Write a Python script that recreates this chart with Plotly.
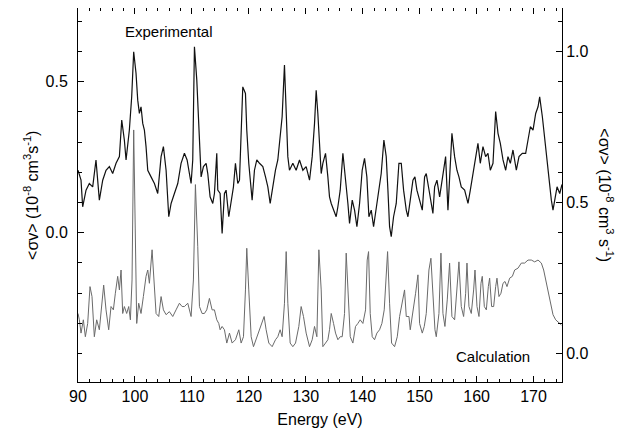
import plotly.graph_objects as go

# Experimental rate coefficient (left axis, 1e-8 cm^3 s^-1)
exp_energy = [
    90.00, 90.53, 90.82, 91.41, 91.99, 92.58, 93.16, 93.75, 94.34, 94.92, 95.51, 96.09, 96.68, 97.27,
    97.68, 98.14, 98.44, 99.02, 99.43, 99.78, 100.19, 100.49, 100.78, 101.07, 101.37, 101.66, 101.95,
    102.25, 102.83, 103.42, 104.00, 104.59, 105.00, 105.47, 105.94, 106.35, 106.93, 107.52, 108.10,
    108.69, 109.16, 109.57, 109.86, 110.15, 110.45, 110.86, 111.21, 111.62, 112.03, 112.50, 112.79,
    113.20, 113.67, 113.96, 114.37, 114.55, 114.96, 115.31, 115.72, 116.01, 116.48, 116.89, 117.30,
    117.65, 118.06, 118.36, 118.65, 118.94, 119.41, 119.64, 119.99, 120.29, 120.58, 120.99, 121.40,
    121.87, 122.46, 122.93, 123.34, 123.75, 124.21, 124.68, 125.09, 125.39, 125.85, 126.26, 126.56,
    126.85, 127.14, 127.73, 128.31, 128.90, 129.49, 130.07, 130.66, 131.13, 131.54, 131.83, 132.12,
    132.42, 132.71, 133.00, 133.47, 133.88, 134.17, 134.47, 134.88, 135.34, 135.64, 136.05, 136.52,
    136.99, 137.40, 137.69, 138.16, 138.57, 138.98, 139.45, 139.91, 140.32, 140.73, 141.09, 141.50,
    141.91, 142.37, 142.84, 143.25, 143.72, 144.13, 144.43, 144.72, 145.01, 145.42, 145.89, 146.36,
    146.77, 147.18, 147.65, 147.94, 148.35, 148.82, 149.17, 149.52, 149.99, 150.46, 150.87, 151.16,
    151.75, 152.33, 152.63, 153.04, 153.51, 153.97, 154.56, 154.97, 155.26, 155.67, 156.14, 156.55,
    156.90, 157.31, 157.90, 158.49, 158.90, 159.36, 159.83, 160.24, 160.65, 161.12, 161.59, 162.00,
    162.41, 162.88, 163.35, 163.76, 164.17, 164.64, 165.11, 165.51, 165.93, 166.39, 166.98, 167.45,
    168.03, 168.62, 169.03, 169.44, 169.91, 170.38, 170.79, 171.08, 171.55, 171.96, 172.37, 172.84,
    173.13, 173.42, 173.78, 174.13, 174.60, 175.00,
]
exp_value = [
    0.207, 0.174, 0.086, 0.141, 0.163, 0.152, 0.241, 0.108, 0.174, 0.207, 0.219, 0.196, 0.230, 0.252,
    0.373, 0.307, 0.241, 0.340, 0.450, 0.599, 0.528, 0.439, 0.395, 0.417, 0.362, 0.340, 0.285,
    0.207, 0.185, 0.163, 0.130, 0.252, 0.285, 0.207, 0.053, 0.097, 0.130, 0.163, 0.230,
    0.263, 0.241, 0.185, 0.163, 0.241, 0.616, 0.506, 0.340, 0.185, 0.219, 0.230, 0.196,
    0.119, 0.097, 0.130, 0.263, 0.141, 0.130, -0.002, 0.130, 0.141, 0.053, 0.097, 0.152,
    0.230, 0.163, 0.174, 0.340, 0.483, 0.461, 0.340, 0.230, 0.152, 0.108, 0.207, 0.241,
    0.230, 0.219, 0.185, 0.152, 0.097, 0.152, 0.207, 0.241, 0.296, 0.384, 0.555, 0.395,
    0.252, 0.207, 0.230, 0.207, 0.241, 0.207, 0.219, 0.174, 0.252, 0.362, 0.472, 0.395,
    0.296, 0.196, 0.230, 0.263, 0.185, 0.119, 0.097, 0.075, 0.053, 0.086, 0.141, 0.263,
    0.185, 0.097, 0.031, 0.108, 0.075, 0.020, 0.097, 0.207, 0.246, 0.185, 0.053, 0.075,
    0.020, 0.075, 0.141, 0.196, 0.307, 0.252, 0.141, 0.020, -0.013, 0.053, 0.097, 0.230,
    0.230, 0.141, 0.075, 0.053, 0.108, 0.174, 0.185, 0.141, 0.108, 0.075, 0.185, 0.196,
    0.130, 0.064, 0.152, 0.174, 0.119, 0.174, 0.252, 0.075, 0.196, 0.329, 0.252, 0.207,
    0.185, 0.152, 0.141, 0.097, 0.141, 0.196, 0.252, 0.296, 0.230, 0.285, 0.252, 0.263,
    0.207, 0.230, 0.401, 0.329, 0.296, 0.241, 0.207, 0.252, 0.230, 0.274, 0.207, 0.252,
    0.263, 0.263, 0.307, 0.351, 0.340, 0.395, 0.417, 0.450, 0.384, 0.307, 0.241, 0.152,
    0.108, 0.075, 0.108, 0.152, 0.130, 0.160,
]

# Calculated rate coefficient (right axis, 1e-8 cm^3 s^-1)
calc_energy = [
    90.00, 90.24, 90.53, 90.94, 91.29, 91.70, 92.11, 92.46, 92.87, 93.28, 93.75, 94.22, 94.51, 94.92,
    95.39, 95.80, 96.21, 96.56, 96.97, 97.27, 97.56, 97.85, 98.14, 98.55, 98.91, 99.20, 99.49, 99.78,
    100.08, 100.31, 100.66, 101.07, 101.48, 101.95, 102.25, 102.54, 103.01, 103.42, 103.71, 104.18,
    104.59, 105.00, 105.47, 106.05, 106.64, 107.22, 107.81, 108.28, 108.69, 109.28, 109.86, 110.27,
    110.62, 111.03, 111.33, 111.79, 112.20, 112.61, 113.08, 113.55, 113.96, 114.37, 114.72, 114.96,
    115.31, 115.72, 116.13, 116.60, 117.07, 117.65, 118.24, 118.65, 119.06, 119.41, 119.64, 119.99,
    120.41, 120.82, 121.28, 121.87, 122.34, 122.69, 123.04, 123.51, 124.10, 124.68, 125.09, 125.50,
    125.85, 126.26, 126.56, 126.85, 127.26, 127.73, 128.20, 128.78, 129.19, 129.60, 130.07, 130.66,
    131.13, 131.54, 131.95, 132.30, 132.71, 133.00, 133.47, 133.88, 134.17, 134.47, 134.88, 135.23,
    135.64, 136.05, 136.40, 136.81, 137.10, 137.45, 137.81, 138.27, 138.74, 139.15, 139.56, 140.03,
    140.50, 140.79, 141.03, 141.32, 141.67, 142.08, 142.49, 142.96, 143.37, 143.78, 144.13, 144.37,
    144.72, 145.07, 145.60, 146.07, 146.48, 146.94, 147.35, 147.65, 148.12, 148.35, 148.82, 149.29,
    149.70, 149.99, 150.46, 150.81, 151.16, 151.63, 151.98, 152.33, 152.69, 152.92, 153.39, 153.74,
    154.09, 154.44, 154.85, 155.26, 155.67, 156.14, 156.55, 156.90, 157.31, 157.72, 158.08, 158.31,
    158.66, 159.07, 159.48, 159.72, 160.07, 160.42, 160.77, 161.00, 161.36, 161.71, 162.06, 162.29,
    162.64, 163.00, 163.35, 163.58, 163.93, 164.28, 164.64, 164.99, 165.34, 165.81, 166.28, 166.69,
    167.27, 167.86, 168.44, 169.03, 169.62, 170.20, 170.79, 171.37, 171.78, 172.25, 172.72, 173.13,
    173.42, 173.89, 174.48, 174.89,
]
calc_value = [
    0.133, 0.112, 0.068, 0.112, 0.056, 0.100, 0.222, 0.189, 0.056, 0.112, 0.079, 0.189, 0.227, 0.145,
    0.079, 0.156, 0.145, 0.200, 0.256, 0.211, 0.277, 0.133, 0.156, 0.133, 0.156, 0.112, 0.244, 0.741,
    0.410, 0.100, 0.167, 0.133, 0.189, 0.256, 0.277, 0.233, 0.344, 0.233, 0.133, 0.123,
    0.189, 0.145, 0.129, 0.139, 0.123, 0.145, 0.167, 0.156, 0.156, 0.167, 0.123, 0.244,
    0.560, 0.354, 0.156, 0.133, 0.133, 0.145, 0.183, 0.145, 0.145, 0.112, 0.100, 0.079,
    0.090, 0.079, 0.035, 0.068, 0.035, 0.046, 0.079, 0.035, 0.056, 0.211, 0.349, 0.211,
    0.056, 0.023, 0.046, 0.079, 0.100, 0.123, 0.079, 0.035, 0.023, 0.046, 0.056, 0.079,
    0.056, 0.167, 0.338, 0.167, 0.035, 0.023, 0.035, 0.090, 0.156, 0.123, 0.068, 0.023,
    0.046, 0.090, 0.056, 0.344, 0.211, 0.023, 0.035, 0.046, 0.079, 0.133, 0.100, 0.068,
    0.046, 0.056, 0.056, 0.133, 0.333, 0.189, 0.056, 0.035, 0.090, 0.100, 0.112, 0.100,
    0.145, 0.310, 0.338, 0.133, 0.056, 0.046, 0.068, 0.079, 0.100, 0.145, 0.277, 0.338,
    0.167, 0.035, 0.023, 0.056, 0.123, 0.167, 0.211, 0.123, 0.123, 0.079, 0.133, 0.200,
    0.261, 0.100, 0.068, 0.090, 0.133, 0.277, 0.316, 0.189, 0.079, 0.056, 0.133, 0.333,
    0.133, 0.090, 0.178, 0.300, 0.123, 0.112, 0.200, 0.304, 0.156, 0.123, 0.200, 0.300,
    0.156, 0.133, 0.211, 0.277, 0.156, 0.123, 0.233, 0.256, 0.156, 0.145, 0.222, 0.250,
    0.156, 0.156, 0.222, 0.250, 0.189, 0.200, 0.233, 0.239, 0.222, 0.250, 0.256, 0.277,
    0.283, 0.300, 0.300, 0.310, 0.310, 0.304, 0.310, 0.300, 0.277, 0.233, 0.189, 0.145,
    0.129, 0.112, 0.100, 0.095,
]

x_ticks = [90, 100, 110, 120, 130, 140, 150, 160, 170]
left_ticks = [0.0, 0.5]
right_ticks = [0.0, 0.5, 1.0]

FONT = "Liberation Sans, Arial, sans-serif"

fig = go.Figure()
fig.add_trace(go.Scatter(x=exp_energy, y=exp_value, mode="lines", name="Experimental",
                         line=dict(color="#111111", width=1.2), yaxis="y"))
fig.add_trace(go.Scatter(x=calc_energy, y=calc_value, mode="lines", name="Calculation",
                         line=dict(color="#6a6a6a", width=1), yaxis="y2"))

axis_common = dict(showline=True, linecolor="black", linewidth=1, ticks="inside",
                   tickcolor="black", ticklen=6, showgrid=False, zeroline=False,
                   tickfont=dict(family=FONT, size=16, color="black"))

fig.update_layout(
    width=634, height=430,
    margin=dict(l=70, r=80, t=0, b=56),
    paper_bgcolor="white", plot_bgcolor="white",
    showlegend=False,
    font=dict(family=FONT, size=16, color="black"),
    xaxis=dict(range=[90, 175], tickvals=x_ticks, ticktext=[str(v) for v in x_ticks],
               mirror="ticks",
               minor=dict(dtick=2, tick0=90, ticks="inside", ticklen=3, tickcolor="black"),
               title=dict(text="Energy (eV)", font=dict(family=FONT, size=16), standoff=9),
               **axis_common),
    yaxis=dict(range=[-0.494, 0.744], tickvals=left_ticks, ticktext=["0.0", "0.5"],
               ticklabelstandoff=6,
               minor=dict(dtick=0.1, tick0=0, ticks="inside", ticklen=4, tickcolor="black"),
               **axis_common),
    yaxis2=dict(range=[-0.094, 1.145], tickvals=right_ticks, ticktext=["0.0", "0.5", "1.0"],
                overlaying="y", side="right",
                minor=dict(dtick=0.1, tick0=0, ticks="inside", ticklen=4, tickcolor="black"),
                **axis_common),
)

fig.add_annotation(text="Experimental", x=105.9, y=0.665, xref="x", yref="y", showarrow=False,
                   font=dict(family=FONT, size=15, color="black"))
fig.add_annotation(text="Calculation", x=162.8, y=-0.010, xref="x", yref="y2", showarrow=False,
                   font=dict(family=FONT, size=15, color="black"))
fig.add_annotation(text="&lt;σv&gt; (10<sup>-8</sup> cm<sup>3</sup>s<sup>-1</sup>)",
                   x=-0.122, y=0.5, xref="paper", yref="paper", textangle=-90, showarrow=False,
                   font=dict(family=FONT, size=16, color="black"))
fig.add_annotation(text="&lt;σv&gt; (10<sup>-8</sup> cm<sup>3</sup> s<sup>-1</sup>)",
                   x=1.115, y=0.5, xref="paper", yref="paper", textangle=90, showarrow=False,
                   font=dict(family=FONT, size=16, color="black"))

fig.write_html("out.html")
